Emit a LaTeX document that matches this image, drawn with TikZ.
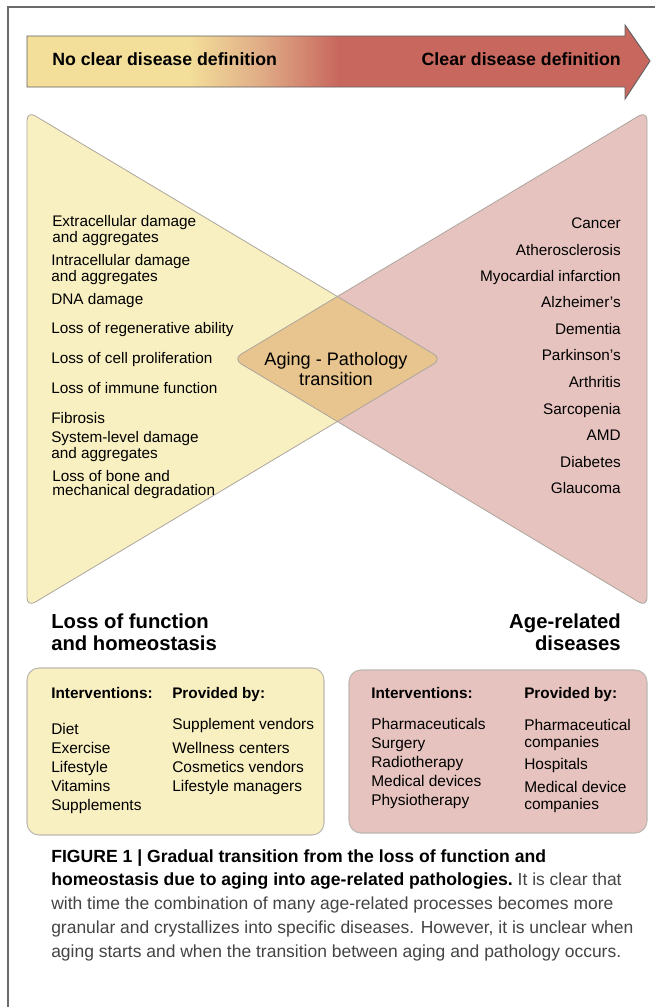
\documentclass[tikz,border=0pt]{standalone}
\usepackage{fontspec}
\setmainfont{Liberation Sans}
\definecolor{ay}{HTML}{F3DE9A}
\definecolor{amid}{HTML}{DFAA85}
\definecolor{ar}{HTML}{C8675E}
\definecolor{ty}{HTML}{F9F0C2}
\definecolor{tr}{HTML}{E6C3BE}
\definecolor{tov}{HTML}{E8C48E}
\definecolor{edge}{HTML}{ACA69E}
\definecolor{framec}{HTML}{6A6A6A}
\definecolor{capgray}{HTML}{444444}
\pgfdeclarehorizontalshading{arrowshade}{100bp}{color(0bp)=(ay); color(38bp)=(ay); color(44bp)=(amid); color(50bp)=(ar); color(100bp)=(ar)}
\begin{document}
\begin{tikzpicture}[x=0.75pt,y=-0.75pt,
  arrowtxt/.style={font=\fontsize{13.3}{15}\selectfont\bfseries, inner sep=0},
  itemtxt/.style={font=\fontsize{11.5}{9.8}\selectfont, inner sep=0, align=left},
  diatxt/.style={font=\fontsize{13.6}{16.5}\selectfont, inner sep=0, align=center},
  headtxt/.style={font=\fontsize{15.2}{15.8}\selectfont\bfseries, inner sep=0},
  boxhead/.style={font=\fontsize{11.5}{13}\selectfont\bfseries, inner sep=0},
  boxtxt/.style={font=\fontsize{11.6}{12.7}\selectfont, inner sep=0, align=left},
  capbold/.style={font=\fontsize{13.2}{15}\selectfont\bfseries, inner sep=0},
  captxt/.style={font=\fontsize{13.1}{15}\selectfont, text=capgray, inner sep=0},
  ybox/.style={fill=ty, draw=edge!80, line width=0.8pt, rounded corners=9pt},
  rbox/.style={fill=tr, draw=edge!80, line width=0.8pt, rounded corners=9pt}
]
\useasboundingbox (0,0) rectangle (654,1007);
\fill[white] (0,0) rectangle (654,1007);
% frame
\draw[framec, line width=1.1pt] (8,1012) -- (8,7) -- (660,7);
% arrow
\draw[shading=arrowshade, draw=gray!75!black, line width=0.7pt]
  (27,36) -- (625,36) -- (625,25) -- (650,61) -- (625,99) -- (625,87) -- (27,87) -- cycle;
\node[arrowtxt, anchor=mid west] (nocl) at (52,62) {No clear disease definition};
\node[arrowtxt, anchor=mid east] (cl) at (621,62) {Clear disease definition};
% triangles
\fill[ty, rounded corners=7pt] (27,111) -- (442,359) -- (27,607) -- cycle;
\fill[tr, rounded corners=7pt] (647,111) -- (647,607) -- (233,359) -- cycle;
\begin{scope}
  \clip[rounded corners=7pt] (27,111) -- (442,359) -- (27,607) -- cycle;
  \fill[tov, rounded corners=7pt] (647,111) -- (647,607) -- (233,359) -- cycle;
\end{scope}
\draw[edge, line width=0.6pt, rounded corners=7pt] (27,111) -- (442,359) -- (27,607) -- cycle;
\draw[edge, line width=0.6pt, rounded corners=7pt] (647,111) -- (647,607) -- (233,359) -- cycle;
% diamond text
\node[diatxt, anchor=center] (ag) at (336,369) {Aging - Pathology\\[-1pt]transition};
% left list
\node[itemtxt, anchor=base west] (l1) at (52,242) {Extracellular damage\\and aggregates};
\node[itemtxt, anchor=base west] (l2) at (51,281) {Intracellular damage\\and aggregates};
\node[itemtxt, anchor=mid west] (l3) at (51,301) {DNA damage};
\node[itemtxt, anchor=mid west] (l4) at (51,330) {Loss of regenerative ability};
\node[itemtxt, anchor=mid west] (l5) at (51,360) {Loss of cell proliferation};
\node[itemtxt, anchor=mid west] (l6) at (51,390) {Loss of immune function};
\node[itemtxt, anchor=mid west] (l7) at (51,420) {Fibrosis};
\node[itemtxt, anchor=base west] (l8) at (51,458) {System-level damage\\and aggregates};
\node[itemtxt, anchor=base west] (l9) at (52,495) {Loss of bone and\\mechanical degradation};
% right list
\node[itemtxt, anchor=mid east] (r1) at (621,225) {Cancer};
\node[itemtxt, anchor=mid east] (r2) at (621,252) {Atherosclerosis};
\node[itemtxt, anchor=mid east] (r3) at (621,278) {Myocardial infarction};
\node[itemtxt, anchor=mid east] (r4) at (621,304) {Alzheimer’s};
\node[itemtxt, anchor=mid east] (r5) at (621,331) {Dementia};
\node[itemtxt, anchor=mid east] (r6) at (621,357) {Parkinson’s};
\node[itemtxt, anchor=mid east] (r7) at (621,384) {Arthritis};
\node[itemtxt, anchor=mid east] (r8) at (621,411) {Sarcopenia};
\node[itemtxt, anchor=mid east] (r9) at (621,437) {AMD};
\node[itemtxt, anchor=mid east] (r10) at (621,464) {Diabetes};
\node[itemtxt, anchor=mid east] (r11) at (621,490) {Glaucoma};
% headings
\node[headtxt, anchor=base west, align=left] (h1) at (51,650) {Loss of function\\and homeostasis};
\node[headtxt, anchor=base east, align=right] (h2) at (621,650) {Age-related\\diseases};
% boxes
\draw[ybox] (27,668) rectangle (324,835);
\draw[rbox] (349,670) rectangle (647,833);
% yellow box content
\node[boxhead, anchor=mid west] (yb1) at (51,695) {Interventions:};
\node[boxhead, anchor=mid west] (yb2) at (172,695) {Provided by:};
\node[boxtxt, anchor=mid west] (yi1) at (51,731) {Diet};
\node[boxtxt, anchor=mid west] (yi2) at (51,750) {Exercise};
\node[boxtxt, anchor=mid west] (yi3) at (51,769) {Lifestyle};
\node[boxtxt, anchor=mid west] (yi4) at (51,788) {Vitamins};
\node[boxtxt, anchor=mid west] (yi5) at (51,807) {Supplements};
\node[boxtxt, anchor=mid west] (yp1) at (172,726) {Supplement vendors};
\node[boxtxt, anchor=mid west] (yp2) at (172,750) {Wellness centers};
\node[boxtxt, anchor=mid west] (yp3) at (172,769) {Cosmetics vendors};
\node[boxtxt, anchor=mid west] (yp4) at (172,788) {Lifestyle managers};
% red box content
\node[boxhead, anchor=mid west] (rb1) at (371,695) {Interventions:};
\node[boxhead, anchor=mid west] (rb2) at (524,695) {Provided by:};
\node[boxtxt, anchor=mid west] (ri1) at (371,726) {Pharmaceuticals};
\node[boxtxt, anchor=mid west] (ri2) at (371,745) {Surgery};
\node[boxtxt, anchor=mid west] (ri3) at (371,764) {Radiotherapy};
\node[boxtxt, anchor=mid west] (ri4) at (371,783) {Medical devices};
\node[boxtxt, anchor=mid west] (ri5) at (371,802) {Physiotherapy};
\node[boxtxt, anchor=base west] (rp1) at (524,747) {Pharmaceutical\\companies};
\node[boxtxt, anchor=mid west] (rp3) at (524,766) {Hospitals};
\node[boxtxt, anchor=base west] (rp4) at (524,809) {Medical device\\companies};
% caption
\node[capbold, anchor=mid west] (c1) at (51,859) {FIGURE 1 | Gradual transition from the loss of function and};
\node[anchor=mid west, inner sep=0] (c2) at (51,882) {\fontsize{13.2}{15}\selectfont\bfseries homeostasis due to aging into age-related pathologies.\ \mdseries\color{capgray}\fontsize{13.1}{15}\selectfont It is clear that};
\node[captxt, anchor=mid west] (c3) at (51,906) {with time the combination of many age-related processes becomes more};
\node[captxt, anchor=mid west] (c4) at (51,930) {granular and crystallizes into specific diseases. However, it is unclear when};
\node[captxt, anchor=mid west] (c5) at (51,954) {aging starts and when the transition between aging and pathology occurs.};
\end{tikzpicture}
\end{document}
